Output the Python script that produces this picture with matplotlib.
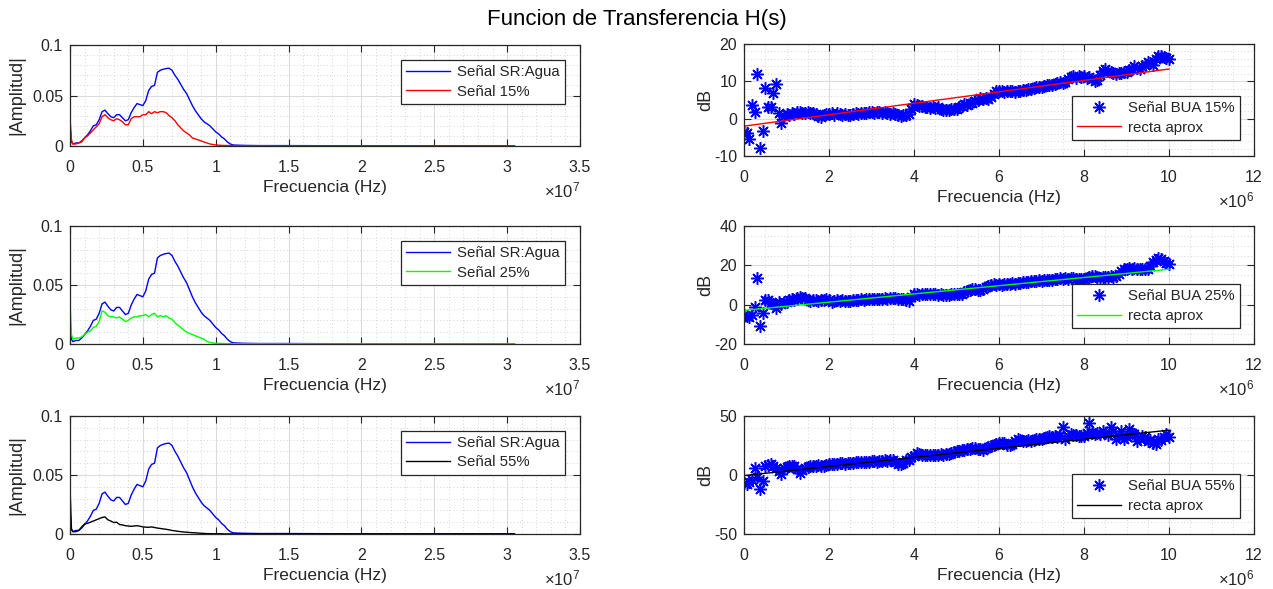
import numpy as np
import matplotlib
matplotlib.use('Agg')
import matplotlib.pyplot as plt
from matplotlib.ticker import MultipleLocator, FuncFormatter

plt.rcParams['font.family'] = ['Liberation Sans', 'DejaVu Sans']
plt.rcParams['mathtext.fontset'] = 'custom'
plt.rcParams['mathtext.rm'] = 'Liberation Sans'
plt.rcParams['mathtext.it'] = 'Liberation Sans:italic'

TXT = '#262626'

# ---------------- data: spectra (frequency in units of 1e7 Hz) ----------------
freq = [0, 0.01, 0.02, 0.04, 0.06, 0.08, 0.10, 0.12, 0.14, 0.16, 0.18, 0.20, 0.22, 0.24,
        0.26, 0.28, 0.30, 0.32, 0.34, 0.36, 0.38, 0.40, 0.42, 0.44, 0.46, 0.48, 0.50, 0.52,
        0.54, 0.56, 0.58, 0.60, 0.62, 0.64, 0.66, 0.68, 0.70, 0.72, 0.74, 0.76, 0.78, 0.80,
        0.82, 0.84, 0.86, 0.88, 0.90, 0.92, 0.94, 0.96, 0.98, 1.00, 1.02, 1.04, 1.06, 1.08,
        1.10, 1.12, 1.15, 1.2, 1.3, 1.5, 1.7, 2.0, 2.3, 2.6, 2.9, 3.05]

amp_agua = [0.020, 0.004, 0.002, 0.003, 0.003, 0.005, 0.008, 0.011, 0.015, 0.020, 0.021, 0.026,
            0.034, 0.0355, 0.032, 0.029, 0.028, 0.031, 0.031, 0.028, 0.025, 0.026, 0.033, 0.038,
            0.042, 0.041, 0.040, 0.045, 0.055, 0.059, 0.060, 0.073, 0.075, 0.076, 0.0767, 0.077,
            0.075, 0.070, 0.066, 0.061, 0.056, 0.052, 0.046, 0.040, 0.035, 0.031, 0.027, 0.024,
            0.022, 0.020, 0.017, 0.014, 0.012, 0.009, 0.007, 0.004, 0.002, 0.001, 0.0008, 0.0006,
            0.0004, 0.0004, 0.0003, 0.0002, 0.0002, 0.0002, 0.0001, 0.0001]

amp_15 = [0.028, 0.006, 0.002, 0.002, 0.003, 0.004, 0.008, 0.010, 0.013, 0.016, 0.019, 0.022,
          0.029, 0.031, 0.028, 0.026, 0.025, 0.027, 0.026, 0.024, 0.021, 0.021, 0.027, 0.029,
          0.029, 0.029, 0.031, 0.031, 0.034, 0.032, 0.034, 0.033, 0.034, 0.034, 0.033, 0.030,
          0.028, 0.025, 0.021, 0.018, 0.015, 0.013, 0.011, 0.008, 0.007, 0.006, 0.005, 0.004,
          0.003, 0.002, 0.0015, 0.001, 0.0008, 0.0006, 0.0005, 0.0005, 0.0004, 0.0004, 0.0003,
          0.0003, 0.0003, 0.0002, 0.0002, 0.0002, 0.0002, 0.0001, 0.0001, 0.0001]

amp_25 = [0.036, 0.008, 0.004, 0.005, 0.005, 0.006, 0.008, 0.010, 0.011, 0.014, 0.015, 0.019,
          0.028, 0.027, 0.024, 0.023, 0.023, 0.022, 0.023, 0.021, 0.019, 0.020, 0.022, 0.023,
          0.023, 0.024, 0.024, 0.025, 0.023, 0.025, 0.026, 0.023, 0.024, 0.023, 0.024, 0.022,
          0.021, 0.018, 0.016, 0.014, 0.012, 0.010, 0.009, 0.008, 0.007, 0.006, 0.005, 0.004,
          0.002, 0.0014, 0.0008, 0.0006, 0.0005, 0.0004, 0.0004, 0.0003, 0.0003, 0.0003, 0.0002,
          0.0002, 0.0002, 0.0002, 0.0001, 0.0001, 0.0001, 0.0001, 0.0001, 0.0001]

amp_55 = [0.040, 0.004, 0.002, 0.002, 0.003, 0.006, 0.0085, 0.009, 0.010, 0.011, 0.012, 0.013,
          0.014, 0.0145, 0.012, 0.011, 0.0097, 0.010, 0.008, 0.0077, 0.007, 0.0068, 0.0065, 0.0068,
          0.007, 0.0066, 0.006, 0.0058, 0.0057, 0.006, 0.0055, 0.005, 0.0047, 0.0043, 0.004, 0.0035,
          0.003, 0.0027, 0.0023, 0.002, 0.0017, 0.0015, 0.0013, 0.0011, 0.001, 0.0008, 0.0006,
          0.0005, 0.0003, 0.0003, 0.0002, 0.0002, 0.0002, 0.0002, 0.0001, 0.0001, 0.0001, 0.0001,
          0.0001, 0.0001, 0.0001, 0.0001, 0.0001, 0.0001, 0.0001, 0.0001, 0.0001, 0.0001]

# ---------------- data: BUA in dB (frequency step 62.5 kHz, units of 1e6 Hz) ----------------
bua_step = 0.0625

bua_15 = [-3.5, -3.9, -5.5, 3.7, 1.9, 11.9, -7.8, -3.2, 8.3, 3.0,
          3.2, 7.0, 9.3, 1.6, -1.1, 0.7, 1.2, 1.0, 1.5, 1.3,
          1.8, 1.9, 1.5, 1.6, 1.7, 1.4, 1.6, 1.2, 0.8, 0.4,
          0.9, 1.3, 1.2, 1.5, 1.1, 1.4, 1.2, 1.0, 1.3, 1.1,
          1.0, 1.2, 1.4, 1.3, 1.5, 1.6, 1.4, 1.7, 1.8, 1.6,
          1.9, 1.7, 1.5, 1.8, 1.6, 1.3, 1.4, 1.2, 1.0, 0.8,
          1.1, 0.9, 1.2, 2.5, 3.9, 3.7, 3.4, 3.3, 3.0, 3.2,
          2.9, 3.0, 2.8, 3.0, 2.6, 2.4, 2.3, 2.2, 2.5, 2.7,
          2.5, 3.0, 3.4, 3.8, 3.6, 4.1, 4.3, 4.8, 4.9, 5.5,
          5.3, 5.5, 5.2, 5.8, 6.6, 7.4, 7.4, 7.5, 7.2, 7.5,
          7.3, 7.4, 7.2, 7.5, 7.3, 7.6, 7.8, 7.9, 8.0, 8.3,
          8.5, 8.6, 8.6, 8.8, 9.0, 9.0, 9.1, 9.3, 9.5, 9.7,
          9.5, 9.9, 10.6, 11.2, 11.4, 11.0, 11.3, 11.1, 11.3, 10.9,
          11.2, 10.6, 10.2, 10.4, 11.8, 12.8, 13.3, 12.9, 12.4, 12.2,
          12.0, 12.3, 12.1, 12.6, 12.6, 13.0, 13.4, 14.0, 13.6, 13.3,
          14.0, 14.3, 15.3, 14.9, 14.5, 16.0, 16.7, 16.9, 16.4, 16.3,
          16.1]

bua_25 = [-5.3, -5.8, -6.1, -5.0, -1.4, 13.7, -10.7, -4.1, 2.4, 2.4,
          1.0, 0.2, -1.9, 1.2, 0.5, 1.5, 1.5, 2.2, 2.9, 2.5,
          3.3, 3.7, 3.5, 3.2, 2.6, 2.0, 2.3, 2.4, 2.1, 2.5,
          2.4, 2.8, 2.2, 1.5, 1.9, 2.3, 2.0, 2.2, 1.8, 2.0,
          2.1, 2.4, 2.2, 2.5, 2.7, 2.6, 2.9, 2.7, 2.8, 2.7,
          3.0, 2.8, 3.1, 3.3, 3.0, 3.2, 3.2, 3.4, 3.1, 2.9,
          3.0, 2.6, 1.9, 4.0, 5.2, 5.4, 5.0, 5.3, 5.5, 5.2,
          5.4, 5.6, 5.3, 5.0, 5.2, 4.9, 5.0, 4.8, 5.3, 5.5,
          5.2, 5.6, 5.4, 6.2, 7.0, 7.5, 8.0, 7.8, 7.6, 7.5,
          7.9, 8.8, 9.5, 10.0, 10.3, 10.1, 10.4, 10.2, 10.5, 10.3,
          10.6, 10.8, 10.5, 11.0, 10.8, 11.3, 11.6, 11.4, 11.8, 12.2,
          12.0, 12.3, 12.2, 12.5, 12.3, 12.6, 12.4, 12.8, 13.0, 13.4,
          13.2, 13.5, 13.3, 13.6, 13.4, 13.2, 12.9, 13.1, 12.9, 13.5,
          14.0, 14.6, 14.4, 13.9, 13.7, 14.1, 13.9, 14.3, 14.6, 14.2,
          14.6, 15.8, 17.0, 18.0, 18.2, 18.5, 18.3, 18.5, 18.2, 18.0,
          18.3, 18.0, 18.0, 19.5, 21.5, 22.7, 23.9, 23.2, 22.4, 21.3,
          20.5]

bua_55 = [-6.9, -7.4, -6.3, -4.0, 6.0, -2.0, -11.7, -4.9, 7.4, 8.5,
          8.9, 8.0, 6.0, 3.0, 0.9, 6.0, 6.5, 8.0, 7.5, 8.0,
          5.0, 1.7, 4.0, 6.0, 7.0, 7.5, 8.0, 7.6, 8.2, 7.8,
          8.0, 8.6, 9.0, 9.5, 9.7, 9.2, 9.8, 10.0, 9.6, 10.3,
          10.3, 10.0, 10.6, 11.0, 10.8, 11.1, 11.4, 11.0, 11.5, 11.7,
          11.4, 12.0, 11.8, 12.3, 12.0, 12.5, 12.3, 11.0, 9.5, 8.9,
          10.5, 12.5, 13.1, 15.0, 16.5, 18.9, 18.0, 17.0, 16.6, 16.9,
          16.6, 17.0, 16.8, 17.2, 17.4, 17.0, 17.4, 18.2, 19.0, 19.5,
          20.0, 20.3, 21.0, 21.5, 22.0, 22.3, 23.1, 22.5, 21.7, 22.0,
          21.5, 22.8, 23.5, 24.6, 25.5, 26.5, 27.0, 27.4, 26.8, 25.5,
          25.1, 26.0, 28.5, 30.3, 29.5, 28.5, 28.9, 29.5, 28.9, 29.8,
          30.5, 30.3, 30.3, 31.0, 32.2, 33.1, 32.5, 33.0, 32.0, 33.5,
          40.3, 30.3, 33.0, 34.6, 34.0, 33.5, 32.8, 33.1, 33.1, 36.0,
          43.7, 36.0, 35.0, 35.4, 34.8, 37.0, 35.8, 34.0, 40.3, 37.0,
          30.9, 33.0, 37.4, 30.3, 32.0, 39.4, 36.0, 34.6, 28.9, 30.5,
          33.1, 32.0, 28.9, 29.5, 27.4, 26.5, 30.3, 29.5, 32.0, 34.6,
          32.6]

# fitted straight lines: value (dB) at 0 Hz and at 1e7 Hz
fit_x = [0, 10]
fit_15 = [-2.0, 13.3]
fit_25 = [-2.9, 18.0]
fit_55 = [-0.5, 38.0]

W, H = 1273, 589
fig = plt.figure(figsize=(W / 100, H / 100), dpi=100)


def px_axes(l, t, r, b):
    return fig.add_axes([l / W, (H - b) / H, (r - l) / W, (b - t) / H])


def style(ax, xmaj, xmin, ymaj, ymin, xlim, ylim, mult):
    ax.set_xlim(xlim)
    ax.set_ylim(ylim)
    ax.xaxis.set_major_locator(MultipleLocator(xmaj))
    ax.xaxis.set_minor_locator(MultipleLocator(xmin))
    ax.yaxis.set_major_locator(MultipleLocator(ymaj))
    ax.yaxis.set_minor_locator(MultipleLocator(ymin))
    fmt = FuncFormatter(lambda v, p: ('%g' % round(v, 6)))
    ax.xaxis.set_major_formatter(fmt)
    ax.yaxis.set_major_formatter(fmt)
    ax.grid(which='major', color='#dcdcdc', lw=0.8)
    ax.grid(which='minor', color='#c8c8c8', lw=0.6, ls=(0, (1, 3)))
    ax.set_axisbelow(True)
    ax.tick_params(which='major', direction='in', length=5, width=0.8, colors=TXT,
                   labelsize=11.5, top=True, right=True, pad=5)
    ax.tick_params(axis='x', which='major', pad=10)
    ax.tick_params(which='minor', length=0)
    for s in ax.spines.values():
        s.set_color(TXT)
        s.set_linewidth(0.9)
    ax.set_xlabel('Frecuencia (Hz)', fontsize=12.5, color=TXT, labelpad=4)
    ax.annotate(r'$\times10^{%d}$' % mult, xy=(1, 0), xycoords='axes fraction',
                xytext=(0, -44), textcoords='offset pixels', ha='right', va='center',
                fontsize=12, color=TXT)


def legend(ax, upper, w, h):
    if upper:
        kw = dict(loc='upper right', bbox_to_anchor=(1 - 15 / w, 1 - 15 / h))
    else:
        kw = dict(loc='lower right', bbox_to_anchor=(1 - 14 / w, 16 / h))
    lg = ax.legend(fontsize=10.8, handlelength=2.9, borderaxespad=0, fancybox=False,
                   framealpha=1, edgecolor=TXT, borderpad=0.35, labelspacing=0.35,
                   handletextpad=0.5, **kw)
    lg.get_frame().set_linewidth(0.9)
    for t in lg.get_texts():
        t.set_color(TXT)


left_rows = [(45, 146), (226, 344), (416, 534)]
right_rows = [(44, 156), (226, 344), (416, 534)]
signals = [(amp_15, '#ff0000', 'Señal 15%'),
           (amp_25, '#00ff00', 'Señal 25%'),
           (amp_55, '#000000', 'Señal 55%')]
buas = [(bua_15, fit_15, '#ff0000', 'Señal BUA 15%', (-10, 20), 10, 2),
        (bua_25, fit_25, '#00ff00', 'Señal BUA 25%', (-20, 40), 20, 5),
        (bua_55, fit_55, '#000000', 'Señal BUA 55%', (-50, 50), 50, 10)]

for (t, b), (amp, col, lab) in zip(left_rows, signals):
    ax = px_axes(70, t, 580, b)
    ax.plot(freq, amp_agua, color='#0000ff', lw=1.0, label='Señal SR:Agua')
    ax.plot(freq, amp, color=col, lw=1.0, label=lab)
    style(ax, 0.5, 0.1, 0.05, 0.01, (0, 3.5), (0, 0.1), 7)
    ax.set_ylabel('|Amplitud|', fontsize=13, color=TXT, labelpad=5)
    legend(ax, True, 510, b - t)

for (t, b), (vals, fit, col, lab, ylim, ymaj, ymin) in zip(right_rows, buas):
    ax = px_axes(744, t, 1254, b)
    x = np.arange(len(vals)) * bua_step
    ax.plot(x, vals, ls='none', marker=(8, 2, 0), ms=9, mew=1.1, color='#0000ff', label=lab)
    ax.plot(fit_x, fit, color=col, lw=1.0, label='recta aprox')
    style(ax, 2, 0.5, ymaj, ymin, (0, 12), ylim, 6)
    ax.set_ylabel('dB', fontsize=13, color=TXT, labelpad=0)
    legend(ax, False, 510, b - t)

fig.suptitle('Funcion de Transferencia H(s)', fontsize=16, color='#000000', y=1 - 20 / H, va='center')

fig.savefig('out.png', dpi=100, facecolor='white')
